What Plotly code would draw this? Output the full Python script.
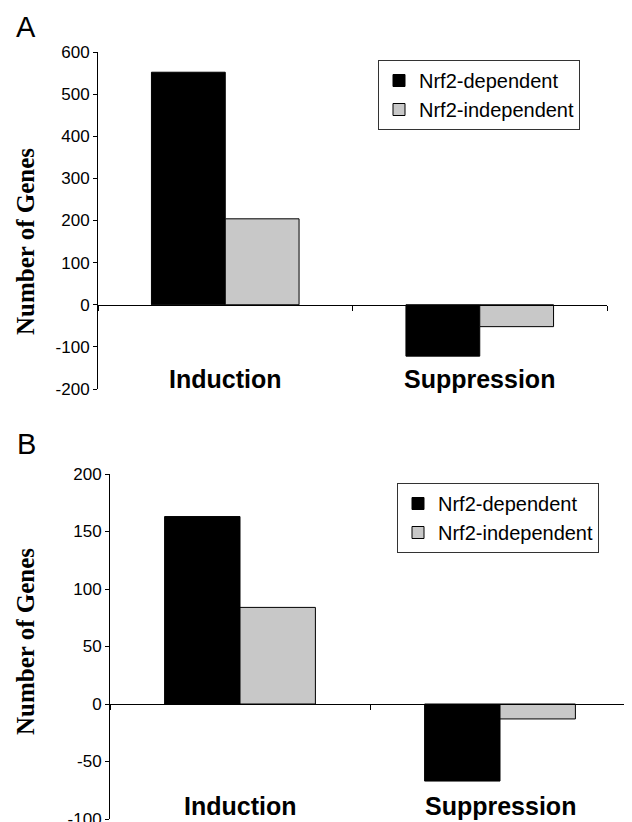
import plotly.graph_objects as go

categories = ["Induction", "Suppression"]
series_names = ["Nrf2-dependent", "Nrf2-independent"]
panel_a_dependent = [552, -122]
panel_a_independent = [204, -52]
panel_b_dependent = [163, -67]
panel_b_independent = [84, -13]
panel_a_ticks = [-200, -100, 0, 100, 200, 300, 400, 500, 600]
panel_b_ticks = [-100, -50, 0, 50, 100, 150, 200]
panel_a_ticklabels = ["-200", "-100", "0", "100", "200", "300", "400", "500", "600"]
panel_b_ticklabels = ["-100", "-50", "0", "50", "100", "150", "200"]

OFF = 8  # default page body margin
W, H = 632 - OFF, 822 - OFF
colors = ["#000000", "#C8C8C8"]

def px(x):
    return (x - OFF) / W

def py(y):
    return 1 - (y - OFF) / H

fig = go.Figure()

for name, vals, col in zip(series_names, [panel_a_dependent, panel_a_independent], colors):
    fig.add_trace(go.Bar(x=categories, y=vals, name=name, marker=dict(color=col, line=dict(color="black", width=1)),
                         xaxis="x", yaxis="y", legend="legend"))
for name, vals, col in zip(series_names, [panel_b_dependent, panel_b_independent], colors):
    fig.add_trace(go.Bar(x=categories, y=vals, name=name, marker=dict(color=col, line=dict(color="black", width=1)),
                         xaxis="x2", yaxis="y2", legend="legend2"))

tickfont = dict(family="Liberation Sans, Arial", size=17, color="black")

# Panel A geometry
a_x0, a_x1 = 98, 607
a_ytop, a_ybot = 52, 389
ra = [-200, 600]
a_dom = [py(a_ybot), py(a_ytop)]
a_zero = a_dom[0] + (0 - ra[0]) / (ra[1] - ra[0]) * (a_dom[1] - a_dom[0])

# Panel B geometry
b_x0, b_x1 = 110, 630
b_ytop, b_ybot = 474, 819
rb = [-100, 200]
b_dom = [py(b_ybot), py(b_ytop)]
b_zero = b_dom[0] + (0 - rb[0]) / (rb[1] - rb[0]) * (b_dom[1] - b_dom[0])

common_x = dict(type="category", range=[-0.5, 1.5], showline=True, linecolor="black", linewidth=1,
                ticks="outside", tickson="boundaries", ticklen=5, tickcolor="black",
                showticklabels=False, showgrid=False, zeroline=False, anchor="free", automargin=False)
common_y = dict(showline=True, linecolor="black", linewidth=1, ticks="outside", ticklen=4,
                tickcolor="black", tickfont=tickfont, showgrid=False, zeroline=False, automargin=False,
                ticklabeloverflow="allow")

legfont = dict(family="Liberation Sans, Arial", size=20, color="black")
fig.update_layout(
    width=W, height=H,
    margin=dict(l=0, r=0, t=0, b=0, autoexpand=False),
    paper_bgcolor="white", plot_bgcolor="rgba(0,0,0,0)",
    barmode="group", bargap=0.42, bargroupgap=0,
    xaxis=dict(domain=[px(a_x0), px(a_x1)], position=a_zero, **common_x),
    yaxis=dict(domain=a_dom, range=ra, tickvals=panel_a_ticks, ticktext=panel_a_ticklabels, anchor="x", **common_y),
    xaxis2=dict(domain=[px(b_x0), px(b_x1)], position=b_zero, **common_x),
    yaxis2=dict(domain=b_dom, range=rb, tickvals=panel_b_ticks, ticktext=panel_b_ticklabels, anchor="x2", **common_y),
    legend=dict(x=px(378), y=py(60), xanchor="left", yanchor="top", bordercolor="#333333", borderwidth=1,
                font=legfont, bgcolor="white", traceorder="normal", tracegroupgap=0),
    legend2=dict(x=px(397), y=py(483), xanchor="left", yanchor="top", bordercolor="#333333", borderwidth=1,
                 font=legfont, bgcolor="white", traceorder="normal", tracegroupgap=0),
)

annots = []
catfont = dict(family="Liberation Sans, Arial", size=25, color="black")
for c in categories:
    annots.append(dict(x=c, xref="x", y=py(379), yref="paper", text="<b>%s</b>" % c, showarrow=False,
                       font=catfont, xanchor="center", yanchor="middle"))
    annots.append(dict(x=c, xref="x2", y=py(806), yref="paper", text="<b>%s</b>" % c, showarrow=False,
                       font=catfont, xanchor="center", yanchor="middle"))
titlefont = dict(family="Liberation Serif, Times New Roman", size=25, color="black")
annots.append(dict(x=px(25), y=py(242), xref="paper", yref="paper", text="<b>Number of Genes</b>",
                   textangle=-90, showarrow=False, font=titlefont, xanchor="center", yanchor="middle"))
annots.append(dict(x=px(25), y=py(642), xref="paper", yref="paper", text="<b>Number of Genes</b>",
                   textangle=-90, showarrow=False, font=titlefont, xanchor="center", yanchor="middle"))
letterfont = dict(family="Liberation Sans, Arial", size=29, color="black")
annots.append(dict(x=px(26), y=py(27), xref="paper", yref="paper", text="A", showarrow=False,
                   font=letterfont, xanchor="center", yanchor="middle"))
annots.append(dict(x=px(26), y=py(444), xref="paper", yref="paper", text="B", showarrow=False,
                   font=letterfont, xanchor="center", yanchor="middle"))
fig.update_layout(annotations=annots)

fig.write_html("out.html")
